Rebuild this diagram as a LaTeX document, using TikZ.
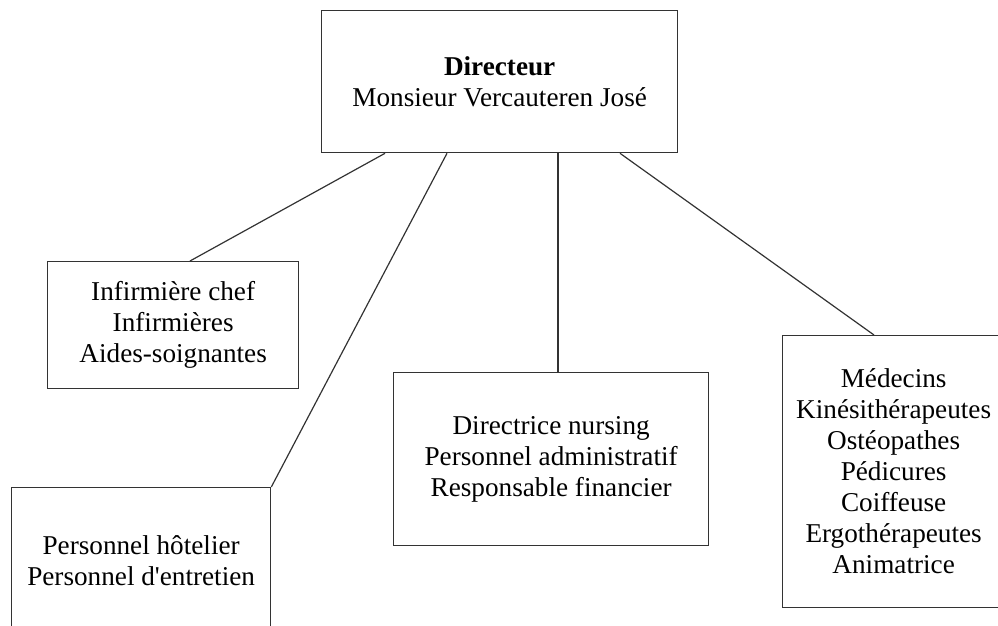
\documentclass[tikz,border=0pt]{standalone}
\usepackage{fontspec}
\setmainfont{Liberation Serif}
\usetikzlibrary{calc}
\begin{document}
\begin{tikzpicture}[x=1pt,y=-1pt,
  box/.style={draw=black!80, line width=1.3pt, anchor=north west, align=center, inner sep=0pt, font=\fontsize{27.2}{31}\selectfont},
  link/.style={draw=black!80, line width=1.2pt}]
\useasboundingbox (0,0) rectangle (998,626);
\clip (0,0) rectangle (998,626);
\node[box, minimum width=356, minimum height=142] (dir) at (321,10) {\textbf{Directeur}\\Monsieur Vercauteren José};
\node[box, minimum width=251, minimum height=127] (inf) at (47,261) {Infirmière chef\\Infirmières\\Aides-soignantes};
\node[box, minimum width=259, minimum height=146] (hot) at (11,487) {Personnel hôtelier\\Personnel d\textquotesingle entretien};
\node[box, minimum width=315, minimum height=173] (dirn) at (393,372) {Directrice nursing\\Personnel administratif\\Responsable financier};
\node[box, minimum width=222, minimum height=272] (med) at (782,335) {Médecins\\Kinésithérapeutes\\Ostéopathes\\Pédicures\\Coiffeuse\\Ergothérapeutes\\Animatrice};
\draw[link] ($(dir.south west)+(64,0)$) -- ($(inf.north west)+(143,0)$);
\draw[link] ($(dir.south west)+(126,0)$) -- (hot.north east);
\draw[link] ($(dir.south west)+(237,0)$) -- ($(dirn.north west)+(165,0)$);
\draw[link] ($(dir.south west)+(299,0)$) -- ($(med.north west)+(92,0)$);
\end{tikzpicture}
\end{document}
